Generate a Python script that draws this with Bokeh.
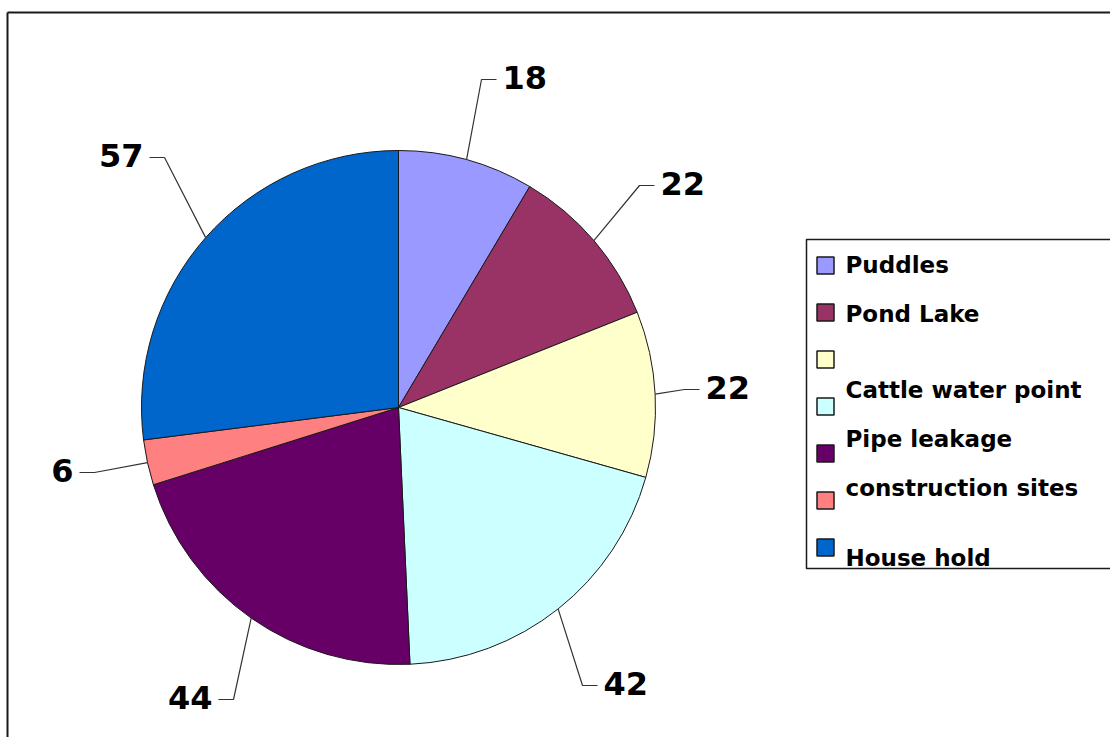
import numpy as np
from bokeh.plotting import figure
from bokeh.models import ColumnDataSource, Range1d
from bokeh.core.properties import value
from bokeh.embed import file_html
from bokeh.resources import INLINE

# ---- data ----
categories = ["Puddles", "Pond Lake", "", "Cattle water point", "Pipe leakage",
              "construction sites", "House hold"]
values = [18, 22, 22, 42, 44, 6, 57]
colors = ["#9999FF", "#993366", "#FFFFCC", "#CCFFFF", "#660066", "#FF8080", "#0066CC"]

# ---- layout (picture pixel coordinates) ----
W, H = 1110, 737
CX, CY = 398, 407          # pie centre
R = 257                    # pie radius
# label anchor offsets from pie centre (px, y down)
label_off = [(104, -330), (262, -224), (307, -20), (205, 276),
             (-186, 290), (-325, 63), (-255, -252)]
legend_x, legend_y0, legend_step = 825, 265, 47
legend_text_dy = [-1, 1, 0, -17, -15, -13, 10]
FONT = "DejaVu Sans"


def Y(yp):
    return H - yp


p = figure(width=W, height=H, x_range=Range1d(0, W), y_range=Range1d(0, H),
           x_axis_type=None, y_axis_type=None, toolbar_location=None,
           output_backend="svg", min_border=0)
p.grid.visible = False
p.outline_line_color = None
p.background_fill_color = "white"
p.border_fill_color = "white"

# ---- pie ----
vals = np.array(values, dtype=float)
cum = np.cumsum(vals) / vals.sum() * 2 * np.pi
start = np.concatenate([[0.0], cum[:-1]])
mid = (start + cum) / 2
src = ColumnDataSource(dict(start=np.pi / 2 - start, end=np.pi / 2 - cum,
                            color=colors, cat=categories))
p.wedge(x=CX, y=Y(CY), radius=R, start_angle="start", end_angle="end",
        direction="clock", fill_color="color", line_color="#1a1a1a", line_width=1,
        source=src)

# ---- data labels with leader lines ----
lx, ly, align, xs, ys = [], [], [], [], []
for i, v in enumerate(values):
    dx, dy = label_off[i]
    ax, ay = CX + dx, CY + dy
    side = 1 if np.sin(mid[i]) > 0 else -1
    ex, ey = CX + R * np.sin(mid[i]), CY - R * np.cos(mid[i])
    xs.append([ex, ax - side * 21, ax - side * 6])
    ys.append([Y(ey), Y(ay + 2), Y(ay + 2)])
    lx.append(ax)
    ly.append(Y(ay))
    align.append("left" if side > 0 else "right")
p.multi_line(xs=xs, ys=ys, line_color="#333333", line_width=1.2)
p.text(x=lx, y=ly, text=[str(v) for v in values], text_align=align,
       text_baseline="middle", text_font=value(FONT), text_font_style="bold",
       text_font_size="32px", text_color="black")

# ---- outer frame (top & left visible) ----
p.line(x=[7, W], y=[Y(12), Y(12)], line_color="#1a1a1a", line_width=2)
p.line(x=[7, 7], y=[Y(12), 0], line_color="#1a1a1a", line_width=2)

# ---- legend ----
sy = [legend_y0 + legend_step * i for i in range(len(categories))]
p.rect(x=[legend_x] * len(categories), y=[Y(s) for s in sy], width=17, height=17,
       fill_color=colors, line_color="#1a1a1a", line_width=1.5)
p.text(x=[845] * len(categories), y=[Y(s + d) for s, d in zip(sy, legend_text_dy)],
       text=categories, text_align="left", text_baseline="middle",
       text_font=value(FONT), text_font_style="bold", text_font_size="23px",
       text_color="black")
p.line(x=[W, 806, 806, W], y=[Y(239), Y(239), Y(568), Y(568)],
       line_color="#1a1a1a", line_width=1.5)

open("out.html", "w").write(file_html(p, INLINE))
